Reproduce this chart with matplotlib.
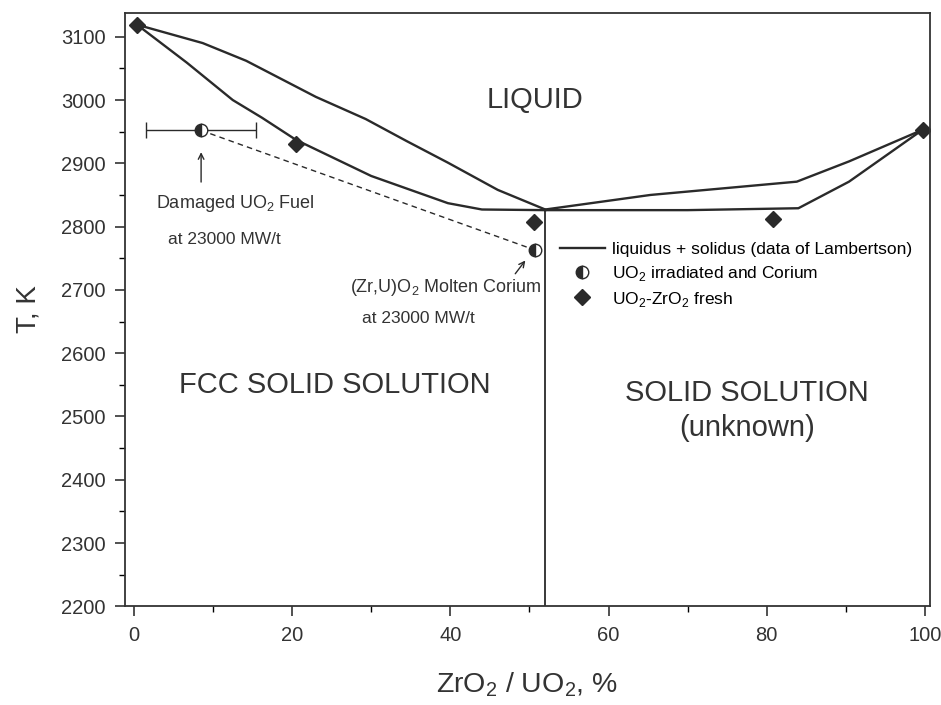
import numpy as np
import matplotlib
matplotlib.use("Agg")
import matplotlib.pyplot as plt
from matplotlib.ticker import MultipleLocator

plt.rcParams['font.family'] = ['Liberation Sans', 'DejaVu Sans']
plt.rcParams['mathtext.fontset'] = 'custom'
plt.rcParams['mathtext.rm'] = 'Liberation Sans'

# ---- datos ----
liq_left_x = [0.4, 8.7, 14.2, 23.0, 29.3, 34.5, 39.7, 46.0, 52.0]
liq_left_T = [3119, 3090, 3062, 3005, 2970, 2935, 2901, 2858, 2827]
sol_left_x = [0.4, 6.7, 12.5, 16.2, 20.5, 30.0, 39.7, 44.0, 52.0]
sol_left_T = [3119, 3059, 3000, 2972, 2937, 2880, 2837, 2827, 2826]
liq_right_x = [52.0, 65.3, 83.8, 90.4, 99.7]
liq_right_T = [2827, 2850, 2871, 2903, 2953]
sol_right_x = [52.0, 70.0, 84.0, 90.4, 99.7]
sol_right_T = [2826, 2826, 2829, 2871, 2953]

fresh_x = [0.4, 20.5, 50.6, 80.8, 99.7]
fresh_T = [3118, 2931, 2808, 2812, 2952]

irr_x = [8.5, 50.7]
irr_T = [2952, 2763]
irr_xerr = [7.0, 0.0]

eutectic_x = 52.0
eutectic_T = 2826

col = '#2a2a2a'
tcol = '#333333'

fig = plt.figure(figsize=(9.41, 7.05), dpi=100)
ax = fig.add_axes([0.133, 0.140, 0.855, 0.842])

# curvas liquidus / solidus
ax.plot(liq_left_x, liq_left_T, color=col, lw=1.7,
        label='liquidus + solidus (data of Lambertson)')
ax.plot(sol_left_x, sol_left_T, color=col, lw=1.7)
ax.plot(liq_right_x, liq_right_T, color=col, lw=1.7)
ax.plot(sol_right_x, sol_right_T, color=col, lw=1.7)
ax.plot([eutectic_x, eutectic_x], [2200, eutectic_T], color=col, lw=1.3)

# linea discontinua entre combustible dañado y corium
ax.plot(irr_x, irr_T, color=col, lw=1.0, ls=(0, (4, 3)))

# puntos irradiados / corium
ax.errorbar(irr_x[:1], irr_T[:1], xerr=irr_xerr[:1], fmt='none', ecolor=col,
            elinewidth=1.0, capsize=6, capthick=1.0)
ax.plot(irr_x, irr_T, ls='none', marker='o', ms=9, fillstyle='left',
        color=col, markerfacecoloralt='white', markeredgecolor=col, mew=1.0,
        label='UO$_2$ irradiated and Corium')

# puntos frescos
ax.plot(fresh_x, fresh_T, ls='none', marker='D', ms=8, color=col,
        label='UO$_2$-ZrO$_2$ fresh')

# textos
ax.text(50.7, 3000, 'LIQUID', fontsize=21, color=tcol, ha='center', va='center')
ax.text(25.4, 2549, 'FCC SOLID SOLUTION', fontsize=21, color=tcol,
        ha='center', va='center')
ax.text(77.5, 2537, 'SOLID SOLUTION', fontsize=21, color=tcol,
        ha='center', va='center')
ax.text(77.5, 2481, '(unknown)', fontsize=21, color=tcol,
        ha='center', va='center')

ax.text(12.8, 2837, 'Damaged UO$_2$ Fuel', fontsize=13, color=tcol,
        ha='center', va='center')
ax.text(11.5, 2779, 'at 23000 MW/t', fontsize=12.5, color=tcol,
        ha='center', va='center')
ax.annotate('', xy=(8.5, 2922), xytext=(8.5, 2866),
            arrowprops=dict(arrowstyle='->', color=col, lw=1.0))

ax.text(39.4, 2703, '(Zr,U)O$_2$ Molten Corium', fontsize=13, color=tcol,
        ha='center', va='center')
ax.text(36.0, 2654, 'at 23000 MW/t', fontsize=12.5, color=tcol,
        ha='center', va='center')
ax.annotate('', xy=(49.7, 2750), xytext=(48.0, 2722),
            arrowprops=dict(arrowstyle='->', color=col, lw=1.0))

# ejes
ax.set_xlim(-1.1, 100.6)
ax.set_ylim(2200, 3138)
ax.xaxis.set_major_locator(MultipleLocator(20))
ax.xaxis.set_minor_locator(MultipleLocator(10))
ax.yaxis.set_major_locator(MultipleLocator(100))
ax.yaxis.set_minor_locator(MultipleLocator(50))
ax.tick_params(which='major', direction='out', length=7, width=1.2,
               labelsize=14.5, colors=tcol, pad=7)
ax.tick_params(which='minor', direction='out', length=4, width=1.0)
for s in ax.spines.values():
    s.set_color(tcol)
    s.set_linewidth(1.3)

ax.set_xlabel('ZrO$_2$ / UO$_2$, %', fontsize=20.5, color=tcol, labelpad=18)
ax.set_ylabel('T, K', fontsize=20, color=tcol, labelpad=14)

ax.legend(loc='upper left', bbox_to_anchor=(0.525, 0.635), frameon=False,
          fontsize=12.5, handlelength=2.6, handletextpad=0.4,
          labelspacing=0.4, borderpad=0.2)

fig.savefig('out.png', dpi=100)
